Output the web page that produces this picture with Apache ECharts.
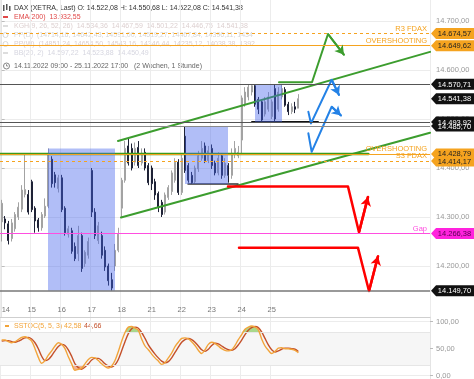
<!DOCTYPE html>
<html><head><meta charset="utf-8">
<script src="https://cdn.jsdelivr.net/npm/echarts@6/dist/echarts.min.js"></script>
<style>html,body{margin:0;padding:0;background:#fff}#c{width:474px;height:379px}</style>
</head><body><div id="c"></div>
<script>
// ---------- DATA ----------
const days = ['14','15','16','17','18','21','22','23','24','25'];
const hours = ['09:00','10:00','11:00','12:00','13:00','14:00','15:00','16:00','17:00'];
const futureSlots = 39;

const openP = [14290,14296,14286,14256,14276,14300,14316,14346,14346,
 14372,14318,14294,14278,14302,14322,14418,14386,14358,
 14380,14318,14265,14272,14240,14225,14262,14205,14222,
 14395,14310,14252,14262,14232,14200,14172,14200,14232,
 14318,14375,14445,14440,14412,14442,14410,14432,14405,
 14400,14372,14348,14330,14310,14340,14352,14375,14412,
 14350,14465,14405,14385,14372,14398,14420,14445,14415,
 14440,14410,14390,14425,14385,14405,14385,14428,14425,
 14457,14530,14545,14555,14568,14540,14535,14510,14520,
 14505,14562,14520,14545,14560,14530,14515,14525,14522.08];
const highP = [14335,14302,14292,14296,14310,14330,14365,14430,14355,
 14376,14322,14298,14310,14338,14440,14424,14392,14386,
 14386,14322,14282,14278,14248,14282,14268,14232,14258,
 14400,14318,14290,14270,14240,14205,14186,14245,14278,
 14380,14455,14460,14450,14452,14455,14440,14440,14410,
 14405,14378,14352,14335,14350,14365,14395,14420,14418,
 14430,14485.7,14410,14392,14405,14435,14455,14452,14445,
 14448,14415,14432,14430,14420,14410,14440,14455,14445,
 14548,14565,14570,14570.71,14570,14545,14538,14545,14555,
 14540,14570,14565,14571,14565,14535,14532,14535,14550.68];
const lowP = [14250,14275,14244,14250,14270,14294,14310,14340,14305,
 14310,14268,14270,14272,14298,14318,14360,14360,14350,
 14310,14262,14258,14225,14210,14210,14188,14198,14215,
 14300,14255,14245,14215,14190,14160,14149.7,14190,14228,
 14298,14370,14405,14395,14405,14400,14405,14395,14365,
 14355,14335,14310,14300,14305,14335,14345,14370,14345,
 14345,14390,14370,14367.3,14368,14392,14415,14410,14410,
 14398,14385,14385,14378,14380,14370,14378,14420,14420,
 14427,14525,14538,14548,14525,14510,14493.92,14505,14515,
 14500,14494,14515,14540,14525,14508,14510,14512,14522.08];
const closeP = [14328,14288,14252,14288,14305,14320,14355,14356,14310,
 14315,14292,14278,14305,14322,14430,14368,14370,14380,
 14315,14268,14276,14230,14215,14262,14195,14228,14250,
 14310,14262,14282,14222,14198,14170,14155,14232,14265,
 14375,14440,14410,14400,14440,14405,14430,14400,14370,
 14368,14345,14320,14305,14345,14360,14390,14412,14350,
 14420,14395,14375,14370,14400,14425,14440,14415,14435,
 14405,14390,14420,14385,14410,14385,14430,14440,14432,
 14543,14555,14565,14568,14530,14520,14498,14535,14545,
 14535,14500,14555,14562,14528,14515,14525,14520,14541.38];

const stochK = [66,66,63,61,63,67,71,72,69,
 64,50,34,23,28,38,46,55,61,
 58,50,35,22,10,12,14,22,30,
 34,33,28,22,17,14,18,28,45,
 64,80,90,91,88,84,68,55,48,
 40,33,27,21,24,33,42,54,62,
 69,70,68,63,56,47,41,48,58,
 62,60,55,50,47,46,48,56,67,
 76,86,90,92,90,85,68,55,47,
 41,45,51,52,50,50,49,47,42.58];
const stochD = [64,65,65,63,62,64,67,70,71,
 68,61,50,36,28,30,37,46,54,
 58,56,48,36,22,15,12,16,22,
 29,32,32,28,22,18,16,20,30,
 46,63,78,87,90,88,80,69,57,
 48,40,33,27,24,26,33,43,53,
 62,67,69,67,62,55,48,45,49,
 56,60,59,55,51,48,47,50,57,
 66,76,84,89,91,89,81,69,57,
 48,44,46,49,51,51,50,49,44.66];

const priceTicks = [14200,14300,14400,14500,14600,14700];
const stochTicks = [0,50,100];
const stochBands = [20,80];

// horizontal levels
const r3Fdax = 14674.57, overshootHigh = 14649.62, resistance = 14570.71, lastPrice = 14541.38;
const support = 14493.92, supportB = 14485.70, overshootLow = 14428.79, s3Fdax = 14414.17;
const gapLevel = 14266.38, lowLevel = 14149.70;

// drawings, in [bar index, price]
const channelUpper = [[34.9,14455],[128.5,14637]];
const channelLower = [[35.8,14299],[128.5,14472]];
const greenLevel = [[-0.5,14428.79],[110,14428.79]];
const greenForecast = [[83.2,14575],[93.1,14575],[97.9,14673.5],[102.7,14631]];
const blueForecast1 = [[92,14515],[92.8,14491],[99,14580],[101.2,14549]];
const blueForecast2 = [[92,14471],[93,14433],[99,14525],[101.8,14507]];
const redForecast1 = [[67.9,14362],[103.9,14362],[107.2,14269],[109.9,14341]];
const redForecast2 = [[71.2,14237],[106.9,14237],[110.2,14149],[112.9,14220]];
const baseLine1 = [[55.9,14367.3],[70.9,14367.3]];
const baseLine2 = [[75.1,14493.92],[94.9,14493.92]];
const boxes = [[[13.9,14440],[34,14149.7]],[[55,14485.7],[67.9,14367.3]],[[76,14570.71],[84.1,14493.92]]];

// ---------- BUILD ----------
const FONT = '"Liberation Sans", Arial, sans-serif';
const ORANGE = '#f5a31f';
const nBars = openP.length;
const categories = [];
days.forEach(d => hours.forEach(h => categories.push(d + ' ' + h)));
for (let i = 0; i < futureSlots; i++) categories.push('');
const nSlots = categories.length;
const fmt = v => { const s = v.toFixed(2).split('.'); return s[0].replace(/\B(?=(\d{3})+(?!\d))/g, '.') + ',' + s[1]; };
const candles = openP.map((o, i) => [o, closeP[i], lowP[i], highP[i]]);
const dayStart = (i) => i < nBars && i % hours.length === 0;

const hiBase = stochK.map(() => 80);
const hiFill = stochK.map(v => Math.max(v - 80, 0));
const loBase = stochK.map(v => Math.min(v, 20));
const loFill = stochK.map(v => 20 - Math.min(v, 20));

function poly(pts, color, width, arrow, extra) {
  const n = pts.length;
  const s = {
    type: 'line', xAxisIndex: 1, yAxisIndex: 0, data: pts, symbol: 'none', silent: true, animation: false, z: 3,
    lineStyle: { color: color, width: width, cap: 'round', join: 'round' }
  };
  if (arrow) s.markLine = {
    silent: true, animation: false, symbol: ['none', 'arrow'], symbolSize: [8, 9],
    label: { show: false }, lineStyle: { color: color, width: width, type: 'solid' },
    data: [[{ coord: pts[n - 2] }, { coord: pts[n - 1] }]]
  };
  return Object.assign(s, extra || {});
}
function lvl(v, color, type, width, text, labColor) {
  const o = { yAxis: v, lineStyle: { color: color, type: type, width: width } };
  o.label = text ? { show: true, formatter: text, position: 'insideEndTop', color: labColor || color, fontSize: 7.5, fontFamily: FONT, distance: [3, 1] } : { show: false };
  return o;
}
function tag(v, bg, fg) {
  return { coord: [nSlots - 1, v], value: v, itemStyle: { color: bg }, label: { color: fg } };
}

const chart = echarts.init(document.getElementById('c'), null, { renderer: 'canvas' });
const gridLine = { show: true, lineStyle: { color: '#ececec', width: 1 } };
const TF = '7px ' + FONT;
const option = {
  animation: false,
  backgroundColor: '#fff',
  grid: [
    { left: 0, top: 0, width: 430, height: 317, outerBoundsMode: 'none', containLabel: false },
    { left: 0, top: 317, width: 430, height: 62, outerBoundsMode: 'none', containLabel: false }
  ],
  xAxis: [
    { type: 'category', gridIndex: 0, data: categories, boundaryGap: true,
      axisLine: { show: true, lineStyle: { color: '#cfcfcf' } }, axisTick: { show: false },
      axisLabel: { inside: true, margin: 3, interval: (i) => dayStart(i), formatter: v => v.split(' ')[0],
        color: '#777', fontSize: 7.5, fontFamily: FONT, alignMinLabel: 'left', showMinLabel: true },
      splitLine: Object.assign({ interval: (i) => dayStart(i) }, gridLine) },
    { type: 'value', gridIndex: 0, min: -0.5, max: nSlots - 0.5, show: false },
    { type: 'category', gridIndex: 1, data: categories, boundaryGap: true,
      axisLine: { show: false }, axisTick: { show: false }, axisLabel: { show: false },
      splitLine: Object.assign({ interval: (i) => dayStart(i) }, gridLine) }
  ],
  yAxis: [
    { type: 'value', gridIndex: 0, position: 'right', min: 14095.92, max: 14742.86, scale: true,
      axisLine: { show: true, lineStyle: { color: '#e4e4e4' } },
      axisTick: { show: true, length: 3, lineStyle: { color: '#bbb' }, customValues: priceTicks },
      axisLabel: { customValues: priceTicks, formatter: v => fmt(v), color: '#999', fontSize: 7.5, fontFamily: FONT, margin: 6 },
      splitLine: gridLine },
    { type: 'value', gridIndex: 1, position: 'right', min: -6.11, max: 108.7,
      axisLine: { show: true, lineStyle: { color: '#e4e4e4' } },
      axisTick: { show: true, length: 3, lineStyle: { color: '#bbb' }, customValues: stochTicks },
      axisLabel: { customValues: stochTicks, formatter: v => fmt(v), color: '#999', fontSize: 7.5, fontFamily: FONT, margin: 6 },
      splitLine: gridLine }
  ],
  series: [
    { type: 'candlestick', xAxisIndex: 0, yAxisIndex: 0, data: candles, barWidth: 1.6, silent: true, z: 2,
      itemStyle: { color: '#a3a3a3', color0: '#1e2236', borderColor: '#a3a3a3', borderColor0: '#1e2236', borderWidth: 1 },
      markLine: { silent: true, animation: false, symbol: ['none', 'none'], precision: 2,
        data: [
          lvl(r3Fdax, ORANGE, [3, 3], 1, 'R3 FDAX'),
          lvl(overshootHigh, ORANGE, 'solid', 1, 'OVERSHOOTING'),
          lvl(resistance, '#555', 'solid', 1),
          lvl(support, '#555', 'solid', 1),
          lvl(supportB, '#8a8a8a', 'solid', 1),
          lvl(overshootLow, ORANGE, 'solid', 1, 'OVERSHOOTING'),
          lvl(s3Fdax, ORANGE, [3, 3], 1, 'S3 FDAX'),
          lvl(gapLevel, '#ff4ee0', 'solid', 1, 'Gap'),
          lvl(lowLevel, '#777', 'solid', 1.5)
        ] },
      markPoint: { silent: true, animation: false, symbol: 'path://M0,5.5L5,0L43,0L43,11L5,11Z', symbolSize: [43, 11],
        symbolOffset: [24.2, 0], z: 6,
        label: { show: true, position: 'inside', offset: [2, 0.5], fontSize: 7.5, fontFamily: FONT, formatter: p => fmt(p.value) },
        data: [
          tag(r3Fdax, ORANGE, '#222'), tag(overshootHigh, ORANGE, '#222'),
          tag(resistance, '#111', '#fff'), tag(lastPrice, '#111', '#fff'),
          tag(supportB, '#111', '#fff'), tag(support, '#111', '#fff'),
          tag(overshootLow, ORANGE, '#222'), tag(s3Fdax, ORANGE, '#222'),
          tag(gapLevel, '#ff22dd', '#5a0050'), tag(lowLevel, '#111', '#fff')
        ] } },
    poly(channelUpper, '#3c9d2e', 2, false, {
      markArea: { silent: true, animation: false, z: 4, itemStyle: { color: 'rgba(70,100,235,0.42)' },
        data: boxes.map(b => [{ coord: b[0] }, { coord: b[1] }]) } }),
    poly(channelLower, '#3c9d2e', 2, false),
    poly(greenLevel, '#3c9a1c', 2.5, false),
    poly(greenForecast, '#3c9d2e', 2, true),
    poly(baseLine1, '#333', 1.5, false),
    poly(baseLine2, '#111', 2, false),
    poly(blueForecast1, '#2482e6', 2, true),
    poly(blueForecast2, '#2482e6', 2, true),
    poly(redForecast1, '#ff0000', 2.5, true),
    poly(redForecast2, '#ff0000', 2.5, true),
    // stochastic panel
    { type: 'line', xAxisIndex: 2, yAxisIndex: 1, data: hiBase, stack: 'hi', symbol: 'none', silent: true, lineStyle: { width: 0 },
      markArea: { silent: true, itemStyle: { color: '#f6f6f6' }, data: [[{ yAxis: stochBands[0] }, { yAxis: stochBands[1] }]] },
      markLine: { silent: true, symbol: ['none', 'none'], label: { show: false }, lineStyle: { color: '#e6e6e6', type: 'solid', width: 1 },
        data: stochBands.map(v => ({ yAxis: v })) } },
    { type: 'line', xAxisIndex: 2, yAxisIndex: 1, data: hiFill, stack: 'hi', symbol: 'none', silent: true, lineStyle: { width: 0 },
      areaStyle: { color: 'rgba(110,190,60,0.85)' } },
    { type: 'line', xAxisIndex: 2, yAxisIndex: 1, data: loBase, stack: 'lo', symbol: 'none', silent: true, lineStyle: { width: 0 } },
    { type: 'line', xAxisIndex: 2, yAxisIndex: 1, data: loFill, stack: 'lo', symbol: 'none', silent: true, lineStyle: { width: 0 },
      areaStyle: { color: 'rgba(235,110,50,0.75)' } },
    { type: 'line', xAxisIndex: 2, yAxisIndex: 1, data: stochD, symbol: 'none', smooth: 0.3, silent: true, lineStyle: { color: '#c4502a', width: 1.4 }, z: 4 },
    { type: 'line', xAxisIndex: 2, yAxisIndex: 1, data: stochK, symbol: 'none', smooth: 0.3, silent: true, lineStyle: { color: '#f2a43a', width: 1.4 }, z: 5 }
  ],
  graphic: { elements: [
    // header icon
    { type: 'rect', shape: { x: 3, y: 5, width: 1.5, height: 6 }, style: { fill: '#555' } },
    { type: 'rect', shape: { x: 6, y: 4, width: 1.5, height: 6 }, style: { fill: '#555' } },
    { type: 'rect', shape: { x: 9, y: 6, width: 1.5, height: 5 }, style: { fill: '#555' } },
    { type: 'text', x: 14, y: 8, style: { text: 'DAX (XETRA, Last) O: 14.522,08 H: 14.550,68 L: 14.522,08 C: 14.541,38', fill: '#333', font: TF, verticalAlign: 'middle' } },
    { type: 'rect', shape: { x: 3, y: 16, width: 5, height: 2 }, style: { fill: '#e04848' } },
    { type: 'text', x: 14, y: 17, style: { text: 'EMA(200)  13.932,55', fill: '#e04848', font: TF, verticalAlign: 'middle' } },
    { type: 'rect', shape: { x: 3, y: 25, width: 5, height: 2 }, style: { fill: '#ddd' } },
    { type: 'text', x: 14, y: 26, style: { text: 'KGH(9, 26, 52, 26)  14.534,36  14.467,59  14.501,22  14.446,75  14.541,38', fill: '#dccfcf', font: TF, verticalAlign: 'middle' } },
    { type: 'circle', shape: { cx: 5.5, cy: 35, r: 2.5 }, style: { fill: 'none', stroke: '#d8d8d8' } },
    { type: 'text', x: 14, y: 35, style: { text: 'PP(D)  (14714,16, 14642,43, 14591,00, 14519,27, 14467,84, 14396,11, 1434', fill: '#d6d6d6', font: TF, verticalAlign: 'middle' } },
    { type: 'circle', shape: { cx: 5.5, cy: 44, r: 2.5 }, style: { fill: 'none', stroke: '#d8d8d8' } },
    { type: 'text', x: 14, y: 44, style: { text: 'PP(W)  (14851,24, 14654,50, 14543,16, 14346,44, 14235,12, 14038,38, 1392', fill: '#dccfcf', font: TF, verticalAlign: 'middle' } },
    { type: 'rect', shape: { x: 3, y: 52, width: 5, height: 2 }, style: { fill: '#ddd' } },
    { type: 'text', x: 14, y: 53, style: { text: 'BB(20, 2)  14.597,22  14.523,88  14.450,49', fill: '#d6d6e0', font: TF, verticalAlign: 'middle' } },
    { type: 'circle', shape: { cx: 6.5, cy: 66, r: 3 }, style: { fill: 'none', stroke: '#777', lineWidth: 0.9 } },
    { type: 'polyline', shape: { points: [[6.5, 64.2], [6.5, 66], [8, 66]] }, style: { stroke: '#777', lineWidth: 0.8, fill: 'none' } },
    { type: 'text', x: 14, y: 66, style: { text: '14.11.2022 09:00 - 25.11.2022 17:00   (2 Wochen, 1 Stunde)', fill: '#666', font: TF, verticalAlign: 'middle' } },
    { type: 'rect', shape: { x: 5, y: 325, width: 4, height: 2 }, style: { fill: '#f2a43a' } },
    { type: 'text', x: 14, y: 326, style: { text: 'SSTOC(5, 5, 3)', fill: '#f2a43a', font: TF, verticalAlign: 'middle' } },
    { type: 'text', x: 64, y: 326, style: { text: '42,58', fill: '#f2a43a', font: TF, verticalAlign: 'middle' } },
    { type: 'text', x: 84, y: 326, style: { text: '44,66', fill: '#c4502a', font: TF, verticalAlign: 'middle' } }
  ] }
};
chart.setOption(option);
</script></body></html>
